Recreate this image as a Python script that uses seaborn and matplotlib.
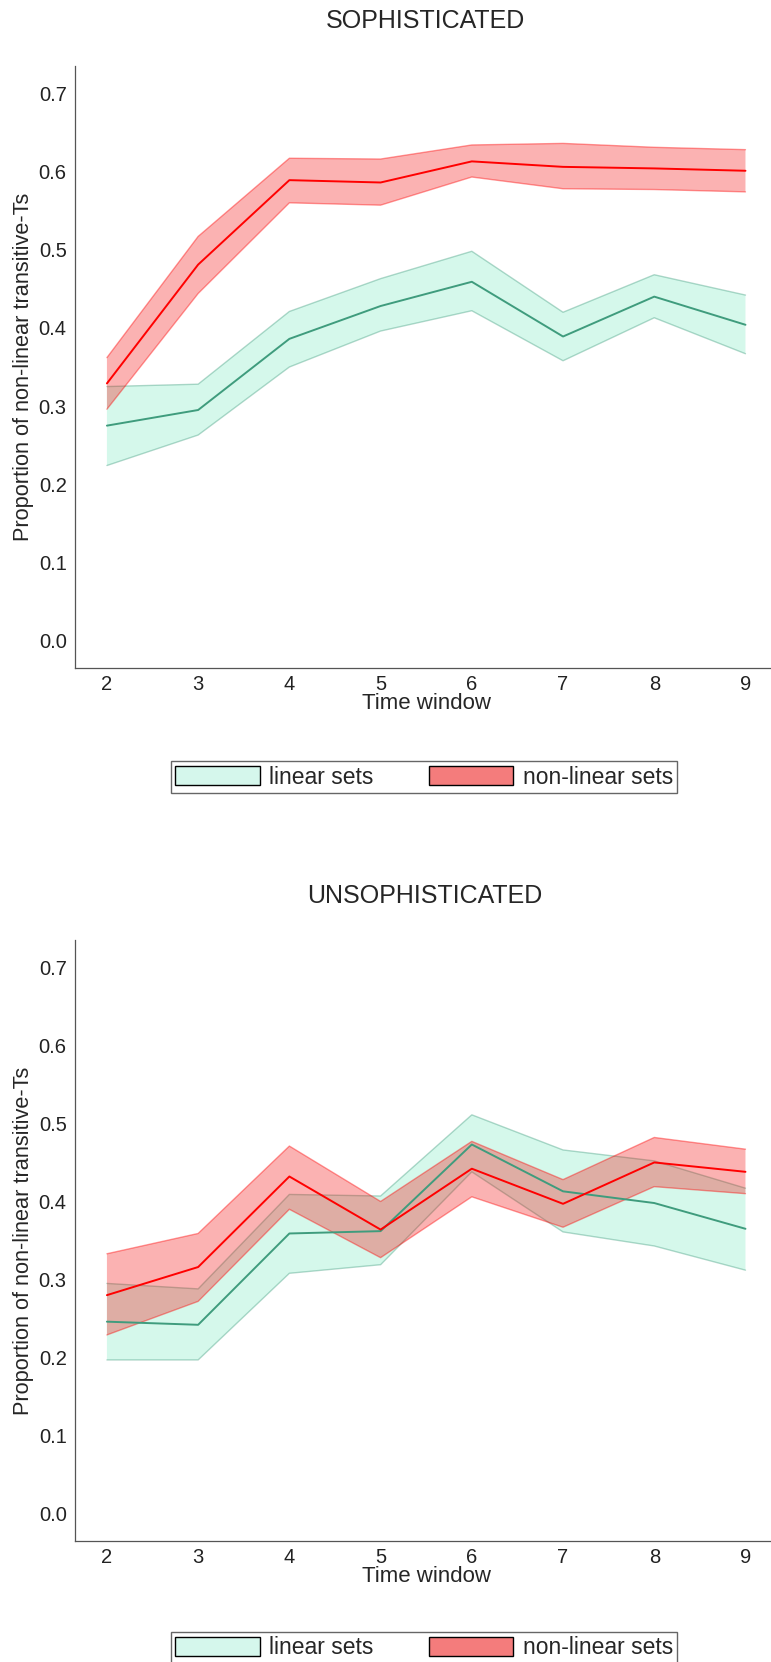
import numpy as np
import pandas as pd
import matplotlib
matplotlib.use('Agg')
import matplotlib.pyplot as plt
from matplotlib.patches import Patch
import seaborn as sns

# --- data ---
windows = [2, 3, 4, 5, 6, 7, 8, 9]
groups = ['linear sets', 'non-linear sets']
panel_titles = ['SOPHISTICATED', 'UNSOPHISTICATED']

soph_lin_mean = [0.275, 0.295, 0.386, 0.428, 0.459, 0.389, 0.440, 0.404]
soph_lin_lo = [0.224, 0.263, 0.350, 0.396, 0.422, 0.358, 0.413, 0.367]
soph_lin_hi = [0.325, 0.328, 0.421, 0.463, 0.498, 0.420, 0.468, 0.442]

soph_non_mean = [0.329, 0.481, 0.589, 0.586, 0.613, 0.606, 0.604, 0.601]
soph_non_lo = [0.296, 0.444, 0.560, 0.557, 0.593, 0.578, 0.577, 0.574]
soph_non_hi = [0.362, 0.517, 0.617, 0.616, 0.634, 0.636, 0.631, 0.628]

unsoph_lin_mean = [0.246, 0.242, 0.359, 0.362, 0.473, 0.413, 0.398, 0.365]
unsoph_lin_lo = [0.197, 0.197, 0.308, 0.319, 0.438, 0.361, 0.343, 0.312]
unsoph_lin_hi = [0.295, 0.288, 0.409, 0.407, 0.511, 0.466, 0.452, 0.417]

unsoph_non_mean = [0.280, 0.316, 0.432, 0.364, 0.442, 0.397, 0.450, 0.438]
unsoph_non_lo = [0.229, 0.272, 0.390, 0.328, 0.406, 0.367, 0.419, 0.410]
unsoph_non_hi = [0.333, 0.359, 0.471, 0.400, 0.477, 0.428, 0.482, 0.467]

yticks = [0.0, 0.1, 0.2, 0.3, 0.4, 0.5, 0.6, 0.7]


def make_df(lin, non):
    rows = []
    for g, (m, lo, hi) in zip(groups, [lin, non]):
        for w, a, b, c in zip(windows, m, lo, hi):
            rows.append({'window': w, 'group': g, 'mean': a, 'lo': b, 'hi': c})
    return pd.DataFrame(rows)


panels = [
    make_df((soph_lin_mean, soph_lin_lo, soph_lin_hi),
            (soph_non_mean, soph_non_lo, soph_non_hi)),
    make_df((unsoph_lin_mean, unsoph_lin_lo, unsoph_lin_hi),
            (unsoph_non_mean, unsoph_non_lo, unsoph_non_hi)),
]

# --- styling ---
sns.set_style('white')
plt.rcParams['font.family'] = ['Liberation Sans', 'DejaVu Sans']

line_colors = {'linear sets': '#3F9C7D', 'non-linear sets': '#FF0000'}
fill_colors = {'linear sets': '#76E8C0', 'non-linear sets': '#F40000'}
key_colors = {'linear sets': '#D5F7EC', 'non-linear sets': '#F47C7C'}

W, H = 771, 1662
fig = plt.figure(figsize=(W / 100, H / 100), dpi=100)

# axes boxes in pixels: (left, top, right, bottom)
boxes = [(75, 66, 777.4, 668), (75, 940, 777.4, 1541)]
title_y = [21, 896]
legend_y = [777, 1648]

for df, box, title, ty, ly in zip(panels, boxes, panel_titles, title_y, legend_y):
    l, t, r, b = box
    ax = fig.add_axes([l / W, 1 - b / H, (r - l) / W, (b - t) / H])

    for g in groups:
        sub = df[df['group'] == g]
        ax.fill_between(sub['window'], sub['lo'], sub['hi'],
                        facecolor=fill_colors[g], alpha=0.3,
                        edgecolor='none', zorder=1)
        ax.plot(sub['window'], sub['lo'], color=line_colors[g], alpha=0.4, lw=1.0, zorder=1)
        ax.plot(sub['window'], sub['hi'], color=line_colors[g], alpha=0.4, lw=1.0, zorder=1)
        sns.lineplot(data=sub, x='window', y='mean', color=line_colors[g],
                     lw=1.4, errorbar=None, legend=False, ax=ax, zorder=2)

    ax.set_xlim(1.65, 9.35)
    ax.set_ylim(-0.035, 0.735)
    ax.set_xticks(windows)
    ax.set_yticks(yticks)
    ax.set_yticklabels([f'{v:.1f}' for v in yticks])
    ax.tick_params(axis='both', labelsize=14.5, length=3, width=0.8,
                   color='#555555', labelcolor='#222222', pad=3)
    ax.tick_params(axis='x', pad=2)
    sns.despine(ax=ax)
    for s in ['left', 'bottom']:
        ax.spines[s].set_color('#555555')
        ax.spines[s].set_linewidth(0.9)
    ax.set_xlabel('Time window', fontsize=16, labelpad=-1)
    ax.set_ylabel('Proportion of non-linear transitive-Ts', fontsize=15.7, labelpad=3)

    fig.text(425 / W, 1 - ty / H, title, ha='center', va='center', fontsize=18)

    handles = [Patch(facecolor=key_colors[g], edgecolor='black', lw=1.0, label=g)
               for g in groups]
    fig.legend(handles=handles, loc='center', bbox_to_anchor=(424 / W, 1 - ly / H),
               ncol=2, fontsize=16.5, frameon=True, fancybox=False, framealpha=1,
               edgecolor='#666666', handlelength=3.7, handleheight=0.85,
               columnspacing=2.4, handletextpad=0.4, borderpad=0.2)

fig.savefig('out.png', dpi=100)
